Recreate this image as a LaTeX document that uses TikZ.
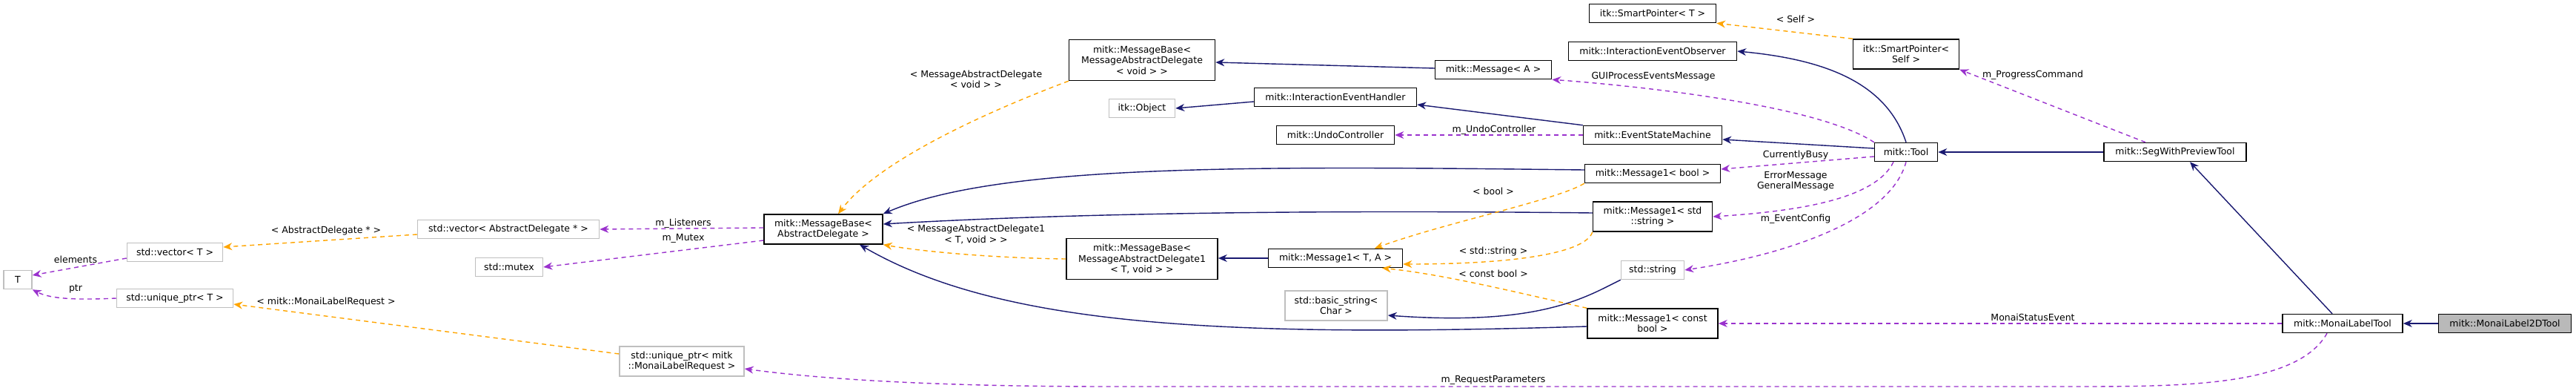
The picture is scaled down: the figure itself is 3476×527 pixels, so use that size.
\documentclass[tikz,border=0pt]{standalone}
\usepackage{fontspec}
\setmainfont{DejaVu Sans}
\usetikzlibrary{arrows.meta}
\definecolor{navyc}{HTML}{191970}
\definecolor{purp}{HTML}{9A32CD}
\definecolor{orng}{HTML}{FFA500}
\definecolor{gbord}{HTML}{BFBFBF}
\tikzset{
  box/.style={draw=black,line width=1.5pt,fill=white,align=center,inner sep=2pt,minimum height=25pt,font=\fontsize{12.5}{14.5}\selectfont},
  gbox/.style={box,draw=gbord},
  inh/.style={navyc,line width=1.4pt,-{Stealth[length=12pt,width=10pt]}},
  use/.style={purp,line width=1.4pt,dash pattern=on 6pt off 5pt,-{Stealth[length=12pt,width=10pt]}},
  tpl/.style={orng,line width=1.4pt,dash pattern=on 6pt off 5pt,-{Stealth[length=12pt,width=10pt]}},
  lbl/.style={font=\fontsize{12.5}{14.5}\selectfont,align=center,inner sep=1pt}
}
\begin{document}
\begin{tikzpicture}[x=1pt,y=-1pt]
\useasboundingbox (0,0) rectangle (3476,527);
% nodes
\node[gbox,minimum width=38pt] (T) at (24,377) {T};
\node[gbox,minimum width=129pt] (vecT) at (236,340) {std::vector< T >};
\node[gbox,minimum width=157pt] (uptrT) at (236,402) {std::unique\_ptr< T >};
\node[gbox,minimum width=245pt] (vecAD) at (686,309) {std::vector< AbstractDelegate * >};
\node[gbox,minimum width=91pt] (mutex) at (687,360) {std::mutex};
\node[gbox,minimum width=168pt,minimum height=40pt] (uptrM) at (920,487) {std::unique\_ptr< mitk\\::MonaiLabelRequest >};
\node[box,minimum width=160pt,minimum height=40pt] (mbAD) at (1111,309) {mitk::MessageBase<\\AbstractDelegate >};
\node[box,minimum width=197pt,minimum height=55pt] (mbV) at (1541,81) {mitk::MessageBase<\\MessageAbstractDelegate\\< void > >};
\node[gbox,minimum width=89pt] (itkObj) at (1541,146) {itk::Object};
\node[box,minimum width=219pt] (ieh) at (1802,131) {mitk::InteractionEventHandler};
\node[box,minimum width=159pt] (undo) at (1802,182) {mitk::UndoController};
\node[box,minimum width=204pt,minimum height=55pt] (mb1) at (1541,349) {mitk::MessageBase<\\MessageAbstractDelegate1\\< T, void > >};
\node[box,minimum width=181pt] (m1TA) at (1802,348) {mitk::Message1< T, A >};
\node[gbox,minimum width=138pt,minimum height=40pt] (bstr) at (1803,412) {std::basic\_string<\\Char >};
\node[box,minimum width=157pt] (msgA) at (2015,94) {mitk::Message< A >};
\node[box,minimum width=171pt] (spT) at (2230,18) {itk::SmartPointer< T >};
\node[box,minimum width=227pt] (ieo) at (2230,69) {mitk::InteractionEventObserver};
\node[box,minimum width=187pt] (esm) at (2230,182) {mitk::EventStateMachine};
\node[box,minimum width=183pt] (m1b) at (2230,234) {mitk::Message1< bool >};
\node[box,minimum width=161pt,minimum height=40pt] (m1s) at (2230,292) {mitk::Message1< std\\::string >};
\node[gbox,minimum width=85pt] (str) at (2230,364) {std::string};
\node[box,minimum width=176pt,minimum height=40pt] (m1cb) at (2230,436) {mitk::Message1< const\\bool >};
\node[box,minimum width=143pt,minimum height=40pt] (spS) at (2572,73) {itk::SmartPointer<\\Self >};
\node[box,minimum width=85pt] (tool) at (2572,205) {mitk::Tool};
\node[box,minimum width=192pt] (seg) at (2935,205) {mitk::SegWithPreviewTool};
\node[box,minimum width=162pt] (monai) at (3161,436) {mitk::MonaiLabelTool};
\node[box,fill=gray!55,minimum width=179pt] (monai2d) at (3380,436) {mitk::MonaiLabel2DTool};
% edges
\draw[use] (vecT.west |- 0,348) -- (T.east |- 0,371);
\draw[use] (uptrT.west) .. controls (110,404) and (70,404) .. (T.south east);
\draw[tpl] (vecAD.west |- 0,316) -- (vecT.east |- 0,333);
\draw[tpl] (uptrM.west |- 0,477) -- (uptrT.east |- 0,410);
\draw[use] (mbAD.west |- 0,307) -- (vecAD.east);
\draw[use] (mbAD.west |- 0,324) -- (mutex.east);
\draw[tpl] (mbV.south west) .. controls (1360,140) and (1190,210) .. (mbAD.north -| 1131,0);
\draw[tpl] (mb1.west) .. controls (1350,348) and (1250,340) .. (mbAD.south east);
\draw[inh] (msgA.west |- 0,92) -- (mbV.east |- 0,84);
\draw[inh] (ieh.west |- 0,137) -- (itkObj.east);
\draw[inh] (esm.north west) -- (ieh.east |- 0,141);
\draw[use] (esm.west) -- (undo.east);
\draw[inh] (m1TA.west) -- (mb1.east |- 0,348);
\draw[inh] (m1b.west |- 0,229) .. controls (1700,224) and (1350,220) .. (mbAD.north east);
\draw[inh] (m1s.west |- 0,287) .. controls (1700,282) and (1400,290) .. (mbAD.east |- 0,302);
\draw[inh] (m1cb.west |- 0,440) .. controls (1650,455) and (1350,440) .. (mbAD.south -| 1160,0);
\draw[tpl] (m1b.south west) .. controls (2100,270) and (1950,300) .. (m1TA.north -| 1855,0);
\draw[tpl] (m1s.south west) .. controls (2140,340) and (2050,356) .. (m1TA.east |- 0,356);
\draw[tpl] (m1cb.north west) .. controls (2050,395) and (1950,370) .. (m1TA.south -| 1865,0);
\draw[inh] (str.south west) .. controls (2140,400) and (2080,440) .. (bstr.east |- 0,425);
\draw[inh] (tool.north) .. controls (2545,110) and (2460,80) .. (ieo.east);
\draw[inh] (tool.west |- 0,200) -- (esm.east |- 0,188);
\draw[use] (tool.north west) .. controls (2450,140) and (2200,115) .. (msgA.south east);
\draw[use] (tool.west |- 0,211) -- (m1b.east |- 0,228);
\draw[use] (tool.south -| 2555,0) .. controls (2530,270) and (2420,285) .. (m1s.east);
\draw[use] (tool.south) .. controls (2550,300) and (2400,345) .. (str.east);
\draw[tpl] (spS.north west) -- (spT.south east);
\draw[inh] (seg.west) -- (tool.east);
\draw[use] (seg.north -| 2895,0) -- (spS.south east);
\draw[inh] (monai.north -| 3147,0) -- (seg.south -| 2955,0);
\draw[use] (monai.west) -- (m1cb.east);
\draw[use] (monai.south -| 3140,0) .. controls (3100,520) and (2950,521) .. (2800,521) -- (1500,521) .. controls (1250,521) and (1100,510) .. (uptrM.east |- 0,497);
\draw[inh] (monai2d.west) -- (monai.east);
% labels
\node[lbl] (l1) at (102,350) {elements};
\node[lbl] (l2) at (102,389) {ptr};
\node[lbl] (l3) at (440,311) {< AbstractDelegate * >};
\node[lbl] (l4) at (440,407) {< mitk::MonaiLabelRequest >};
\node[lbl] (l5) at (922,301) {m\_Listeners};
\node[lbl] (l6) at (922,321) {m\_Mutex};
\node[lbl] (l7) at (1317,107) {< MessageAbstractDelegate\\< void > >};
\node[lbl] (l8) at (1317,316) {< MessageAbstractDelegate1\\< T, void > >};
\node[lbl] (l9) at (2016,175) {m\_UndoController};
\node[lbl] (l10) at (2015,258) {< bool >};
\node[lbl] (l11) at (2015,339) {< std::string >};
\node[lbl] (l12) at (2015,369) {< const bool >};
\node[lbl] (l13) at (2015,512) {m\_RequestParameters};
\node[lbl] (l14) at (2423,26) {< Self >};
\node[lbl] (l15) at (2231,103) {GUIProcessEventsMessage};
\node[lbl] (l16) at (2743,101) {m\_ProgressCommand};
\node[lbl] (l17) at (2423,209) {CurrentlyBusy};
\node[lbl] (l18) at (2423,244) {ErrorMessage\\GeneralMessage};
\node[lbl] (l19) at (2423,295) {m\_EventConfig};
\node[lbl] (l20) at (2743,428) {MonaiStatusEvent};
\end{tikzpicture}
\end{document}
